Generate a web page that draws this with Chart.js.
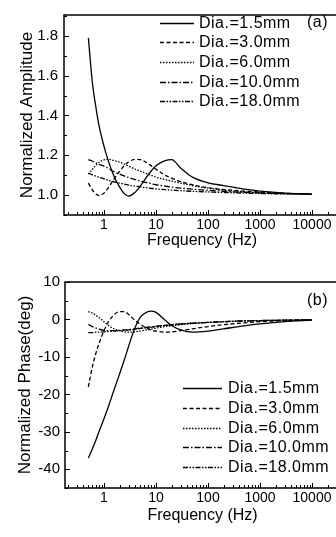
<!DOCTYPE html>
<html lang="en">
<head>
<meta charset="UTF-8">
<script src="https://cdn.jsdelivr.net/npm/chart.js"></script>
<title>Normalized amplitude and phase</title>
<style>
    body { margin: 0; background: #fff; overflow: hidden; }
    #wrap { position: relative; width: 336px; height: 537px; overflow: hidden; }
    canvas { position: absolute; left: 0; }
</style>
</head>
<body>
<div id="wrap">
    <canvas id="chart_a" width="345" height="268" style="top:0px"></canvas>
    <canvas id="chart_b" width="345" height="269" style="top:268px"></canvas>
</div>
<script>
    // frequency grid (Hz), shared by every curve
    const freq = [0.5, 0.6, 0.7, 0.8, 1, 1.2, 1.5, 2, 2.5, 3, 4, 5, 6, 8, 10, 15, 20, 30, 50, 100, 200, 500, 1000, 3000, 10000];

    const seriesLabels = ['Dia.=1.5mm', 'Dia.=3.0mm', 'Dia.=6.0mm', 'Dia.=10.0mm', 'Dia.=18.0mm'];

    // (a) normalized amplitude
    const ampDia15  = [1.79, 1.56, 1.44, 1.35, 1.245, 1.175, 1.105, 1.04, 1.005, 0.995, 1.015, 1.045, 1.075, 1.12, 1.148, 1.173, 1.178, 1.135, 1.09, 1.062, 1.048, 1.03, 1.02, 1.01, 1.005];
    const ampDia30  = [1.06, 1.025, 1.005, 0.998, 1.01, 1.035, 1.075, 1.12, 1.15, 1.168, 1.18, 1.178, 1.17, 1.148, 1.13, 1.10, 1.085, 1.068, 1.052, 1.037, 1.028, 1.02, 1.015, 1.009, 1.005];
    const ampDia60  = [1.105, 1.13, 1.15, 1.165, 1.177, 1.18, 1.175, 1.165, 1.155, 1.145, 1.13, 1.12, 1.112, 1.10, 1.09, 1.078, 1.07, 1.06, 1.048, 1.035, 1.025, 1.016, 1.012, 1.008, 1.005];
    const ampDia100 = [1.178, 1.17, 1.162, 1.155, 1.145, 1.135, 1.12, 1.105, 1.095, 1.088, 1.078, 1.07, 1.065, 1.058, 1.052, 1.045, 1.04, 1.035, 1.03, 1.024, 1.019, 1.014, 1.011, 1.007, 1.005];
    const ampDia180 = [1.11, 1.102, 1.095, 1.09, 1.082, 1.075, 1.068, 1.06, 1.055, 1.05, 1.045, 1.041, 1.038, 1.034, 1.031, 1.027, 1.025, 1.022, 1.019, 1.016, 1.013, 1.01, 1.008, 1.006, 1.005];

    // (b) normalized phase (deg)
    const phaseDia15  = [-37, -34.5, -32.2, -30, -26.5, -23.5, -19.5, -14.5, -10.5, -7, -2, 0.6, 1.6, 2.2, 1.9, -0.2, -1.6, -2.8, -3.4, -3.1, -2.5, -1.7, -1.2, -0.6, -0.2];
    const phaseDia30  = [-18, -12.5, -9, -6.5, -3, -0.8, 1.0, 2.1, 2.1, 1.3, -0.3, -1.3, -2, -2.8, -3.1, -3.4, -3.3, -3.0, -2.5, -1.9, -1.4, -0.9, -0.6, -0.3, -0.1];
    const phaseDia60  = [2.1, 1.7, 1.1, 0.5, -0.6, -1.5, -2.4, -3.0, -3.3, -3.4, -3.3, -3.1, -2.9, -2.6, -2.3, -1.9, -1.7, -1.4, -1.1, -0.8, -0.6, -0.4, -0.3, -0.2, -0.1];
    const phaseDia100 = [-1.3, -1.9, -2.3, -2.6, -2.9, -3.0, -3.0, -2.9, -2.8, -2.7, -2.5, -2.3, -2.2, -2.0, -1.8, -1.6, -1.4, -1.2, -1.0, -0.8, -0.6, -0.4, -0.3, -0.2, -0.1];
    const phaseDia180 = [-3.5, -3.5, -3.4, -3.4, -3.3, -3.2, -3.1, -3.0, -2.9, -2.8, -2.6, -2.4, -2.3, -2.1, -1.9, -1.6, -1.4, -1.2, -1.0, -0.8, -0.6, -0.4, -0.3, -0.2, -0.1];

    // tick labels
    const freqTicks  = [1, 10, 100, 1000, 10000];
    const ampTicks   = [1.0, 1.2, 1.4, 1.6, 1.8];
    const phaseTicks = [-40, -30, -20, -10, 0, 10];

    const FONT = "'Liberation Sans', Arial, sans-serif";
    var lineDashes = [[], [4, 2.5], [1.5, 1.5], [6, 2, 1.5, 2], [5, 1.5, 1.5, 1.5, 1.5, 1.5]];

    // box, inward ticks, legend and panel tag
    var decorPlugin = {
        id: 'decor',
        afterDatasetsDraw: function(chart, args, opts) {
            var ctx = chart.ctx, a = chart.chartArea;
            var xs = chart.scales.x, ys = chart.scales.y;
            ctx.save();
            ctx.strokeStyle = '#000';
            ctx.setLineDash([]);
            ctx.lineWidth = 1.5;
            ctx.beginPath();
            ctx.moveTo(a.right + 10, a.top);
            ctx.lineTo(a.left, a.top);
            ctx.lineTo(a.left, a.bottom);
            ctx.lineTo(a.right + 10, a.bottom);
            ctx.stroke();

            ctx.lineWidth = 1;
            ctx.beginPath();
            for (var k = -1; k <= 4; k++) {
                for (var m = 1; m <= 9; m++) {
                    var v = m * Math.pow(10, k);
                    if (v < xs.min || v > xs.max) continue;
                    var px = Math.round(xs.getPixelForValue(v)) + 0.5;
                    ctx.moveTo(px, a.bottom);
                    ctx.lineTo(px, a.bottom - (m === 1 ? 5 : 3));
                }
            }
            var half = opts.yHalf;
            for (var i = Math.ceil(ys.min / half); i <= Math.floor(ys.max / half); i++) {
                var py = Math.round(ys.getPixelForValue(i * half)) + 0.5;
                ctx.moveTo(a.left, py);
                ctx.lineTo(a.left + (i % 2 === 0 ? 5 : 3), py);
            }
            ctx.stroke();

            // legend
            var lg = opts.legend;
            ctx.font = '16px ' + FONT;
            ctx.fillStyle = '#000';
            ctx.textBaseline = 'middle';
            ctx.letterSpacing = '0.5px';
            chart.data.datasets.forEach(function(ds, j) {
                var y = Math.round(lg.y0 + lg.dy * j) + 0.5;
                ctx.lineWidth = ds.borderWidth;
                ctx.setLineDash(ds.borderDash);
                ctx.beginPath();
                ctx.moveTo(lg.x0, y);
                ctx.lineTo(lg.x1, y);
                ctx.stroke();
                ctx.fillText(ds.label, lg.tx, y);
            });
            ctx.fillText(opts.tag.text, opts.tag.x, opts.tag.y);
            ctx.restore();
        }
    };

    function makeSeries(values) {
        return values.map(function(arr, j) {
            return {
                label: seriesLabels[j],
                data: freq.map(function(f, i) { return {x: f, y: arr[i]}; }),
                borderColor: '#000',
                borderWidth: 1.3,
                borderDash: lineDashes[j],
                pointRadius: 0,
                fill: false,
                cubicInterpolationMode: 'monotone'
            };
        });
    }

    function makeChart(id, cfg) {
        return new Chart(document.getElementById(id), {
            type: 'line',
            data: { datasets: makeSeries(cfg.values) },
            plugins: [decorPlugin],
            options: {
                responsive: false,
                animation: false,
                layout: { padding: { top: cfg.padTop, right: 5, left: 0, bottom: 0 } },
                scales: {
                    x: {
                        type: 'logarithmic',
                        min: cfg.xMin,
                        max: 34550,
                        afterBuildTicks: function(s) { s.ticks = freqTicks.map(function(v) { return {value: v}; }); },
                        afterFit: function(s) { s.height = cfg.xHeight; },
                        grid: { display: false, drawTicks: false },
                        border: { display: false },
                        ticks: {
                            color: '#000', padding: 2, maxRotation: 0, autoSkip: false,
                            font: { size: 14, family: FONT },
                            callback: function(v) { return String(v); }
                        },
                        title: {
                            display: true, text: 'Frequency (Hz)', color: '#000',
                            font: { size: 16, family: FONT },
                            padding: { top: 0, bottom: cfg.xTitlePad }
                        }
                    },
                    y: {
                        min: cfg.yMin,
                        max: cfg.yMax,
                        afterBuildTicks: function(s) { s.ticks = cfg.yTicks.map(function(v) { return {value: v}; }); },
                        afterFit: function(s) { s.width = cfg.yWidth; },
                        grid: { display: false, drawTicks: false },
                        border: { display: false },
                        ticks: {
                            color: '#000', padding: cfg.yTickPad, autoSkip: false,
                            font: { size: 15, family: FONT },
                            callback: cfg.yFormat
                        },
                        title: {
                            display: true, text: cfg.yTitle, color: '#000',
                            font: { size: 17, family: FONT },
                            padding: { top: cfg.yTitlePad, bottom: 0 }
                        }
                    }
                },
                plugins: {
                    legend: { display: false },
                    tooltip: { enabled: false },
                    decor: { yHalf: cfg.yHalf, legend: cfg.legend, tag: cfg.tag }
                }
            }
        });
    }

    var chartA = makeChart('chart_a', {
        values: [ampDia15, ampDia30, ampDia60, ampDia100, ampDia180],
        padTop: 4, xMin: 0.170, xHeight: 53, xTitlePad: 18,
        yMin: 0.9, yMax: 1.905, yTicks: ampTicks, yWidth: 64, yTickPad: 6, yTitlePad: 17,
        yFormat: function(v) { return v.toFixed(1); },
        yTitle: 'Normalized Amplitude', yHalf: 0.1,
        legend: { x0: 160, x1: 194, tx: 199, y0: 22.5, dy: 19.7 },
        tag: { text: '(a)', x: 307, y: 22.5 }
    });

    var chartB = makeChart('chart_b', {
        values: [phaseDia15, phaseDia30, phaseDia60, phaseDia100, phaseDia180],
        padTop: 11, xMin: 0.178, xHeight: 49, xTitlePad: 12,
        yMin: -45, yMax: 10, yTicks: phaseTicks, yWidth: 65, yTickPad: 5, yTitlePad: 15,
        yFormat: function(v) { return String(v); },
        yTitle: 'Normalized Phase(deg)', yHalf: 5,
        legend: { x0: 183, x1: 222, tx: 228, y0: 120.3, dy: 19.6 },
        tag: { text: '(b)', x: 307, y: 33 }
    });
</script>
</body>
</html>
